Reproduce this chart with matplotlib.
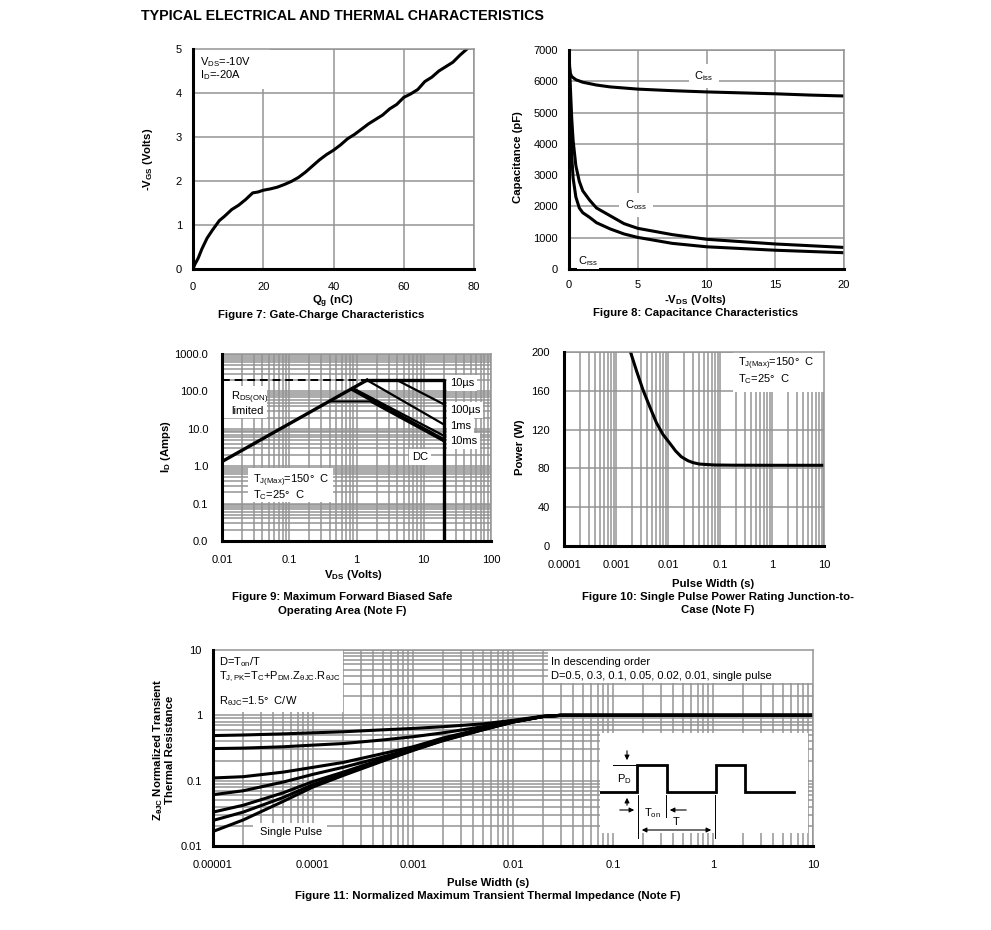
import matplotlib
matplotlib.use("Agg")
import matplotlib.pyplot as plt
from matplotlib.patches import Rectangle
from matplotlib.ticker import LogLocator, NullFormatter

plt.rcParams.update({
    "font.family": "Liberation Sans",
    "mathtext.fontset": "custom",
    "mathtext.rm": "Liberation Sans",
    "mathtext.it": "Liberation Sans:italic",
    "mathtext.bf": "Liberation Sans:bold",
    "mathtext.default": "regular",
})

# ---- Figure 7: gate charge ----
qg = [0, 0.5, 1.5, 2.5, 4, 5.5, 7.5, 9, 11, 13, 15, 17, 18.5, 20, 22, 24, 26, 28, 30,
      32, 34, 36, 38, 40, 42, 44, 46, 48, 50, 52, 54, 56, 58, 60, 62, 64, 66, 68, 70,
      72, 74, 76, 78]
vgs = [0, 0.1, 0.25, 0.45, 0.7, 0.88, 1.1, 1.2, 1.35, 1.45, 1.58, 1.73, 1.75, 1.79,
       1.82, 1.86, 1.92, 1.99, 2.08, 2.2, 2.34, 2.48, 2.6, 2.7, 2.82, 2.96, 3.06, 3.18,
       3.3, 3.4, 3.5, 3.64, 3.74, 3.9, 3.98, 4.08, 4.26, 4.36, 4.5, 4.6, 4.7, 4.86, 5.0]

# ---- Figure 8: capacitance ----
v_iss = [0, 0.05, 0.1, 0.2, 0.5, 1, 2, 3, 5, 7.5, 10, 12.5, 15, 17.5, 20]
c_iss = [7000, 6400, 6250, 6150, 6050, 5970, 5880, 5820, 5750, 5700, 5660, 5630, 5600, 5560, 5530]
v_oss = [0.05, 0.1, 0.2, 0.3, 0.5, 0.75, 1, 1.5, 2, 3, 4, 5, 7.5, 10, 15, 20]
c_oss = [6400, 5800, 4800, 4100, 3300, 2800, 2500, 2200, 1950, 1700, 1450, 1300, 1100, 950, 800, 690]
v_rss = [0.03, 0.1, 0.2, 0.3, 0.5, 0.75, 1, 1.5, 2, 3, 4, 5, 7.5, 10, 15, 20]
c_rss = [6000, 4800, 3600, 2900, 2300, 1950, 1800, 1650, 1480, 1280, 1120, 1010, 820, 710, 600, 520]

# ---- Figure 9: SOA ----
rds_v, rds_i = [0.01, 1.43], [1.33, 200]
lim_v, lim_i = [0.01, 1.43], [200, 200]
top_v, top_i = [1.43, 20, 20], [200, 200, 0.01]
us10_v, us10_i = [4, 20], [200, 45]
us100_v, us100_i = [1.43, 20], [200, 13]
ms1_v, ms1_i = [0.9, 20], [120, 6.5]
ms10_v, ms10_i = [0.86, 20], [114, 5]
dc_v, dc_i = [0.41, 1.6, 20], [54, 54, 4.6]
soa_xt = [0.01, 0.1, 1, 10, 100]
soa_xl = ["0.01", "0.1", "1", "10", "100"]
soa_yt = [0.01, 0.1, 1, 10, 100, 1000]
soa_yl = ["0.0", "0.1", "1.0", "10.0", "100.0", "1000.0"]

# ---- Figure 10: single pulse power ----
tp = [0.0019, 0.0025, 0.0033, 0.0045, 0.006, 0.008, 0.0108, 0.014, 0.018, 0.024,
      0.030, 0.04, 0.055, 0.08, 0.18, 1, 10]
pw = [200, 180, 161, 143, 127, 115, 106, 98, 92, 88, 86, 84.5, 84, 83.5, 83.3, 83.2, 83.2]
pw_xt = [0.0001, 0.001, 0.01, 0.1, 1, 10]
pw_xl = ["0.0001", "0.001", "0.01", "0.1", "1", "10"]

# ---- Figure 11: transient thermal impedance ----
tz = [1e-5, 2e-5, 5e-5, 1e-4, 2e-4, 5e-4, 1e-3, 2e-3, 5e-3, 1e-2, 2e-2, 3e-2, 0.1, 10]
z_d50 = [0.49, 0.50, 0.52, 0.54, 0.56, 0.60, 0.63, 0.67, 0.74, 0.84, 0.97, 1.0, 1.0, 1.0]
z_d30 = [0.31, 0.315, 0.33, 0.35, 0.37, 0.42, 0.47, 0.54, 0.67, 0.82, 0.96, 1.0, 1.0, 1.0]
z_d10 = [0.11, 0.115, 0.135, 0.16, 0.19, 0.26, 0.33, 0.45, 0.63, 0.80, 0.96, 1.0, 1.0, 1.0]
z_d05 = [0.061, 0.07, 0.095, 0.125, 0.16, 0.23, 0.31, 0.43, 0.62, 0.80, 0.96, 1.0, 1.0, 1.0]
z_d02 = [0.033, 0.042, 0.065, 0.097, 0.135, 0.215, 0.30, 0.42, 0.61, 0.79, 0.96, 1.0, 1.0, 1.0]
z_d01 = [0.0246, 0.033, 0.055, 0.087, 0.125, 0.205, 0.295, 0.415, 0.605, 0.79, 0.96, 1.0, 1.0, 1.0]
z_sp = [0.0167, 0.025, 0.048, 0.08, 0.12, 0.20, 0.29, 0.41, 0.60, 0.79, 0.96, 1.0, 1.0, 1.0]
z_xt = [1e-5, 1e-4, 1e-3, 1e-2, 0.1, 1, 10]
z_xl = ["0.00001", "0.0001", "0.001", "0.01", "0.1", "1", "10"]
z_yt = [0.01, 0.1, 1, 10]
z_yl = ["0.01", "0.1", "1", "10"]

# pulse sketch (inset units)
pulse_x = [600, 637, 637, 667, 667, 716, 716, 745, 745, 794]
pulse_y = [792, 792, 765, 765, 792, 792, 765, 765, 792, 792]

W, H = 991, 930
GRID = "#949494"
FS = 8
FB = 8.2

fig = plt.figure(figsize=(W / 100, H / 100), dpi=100, facecolor="white")


def rect(l, t, r, b):
    return [l / W, 1 - b / H, (r - l) / W, (b - t) / H]


def ftext(x, y, s, **kw):
    kw.setdefault("fontsize", FS)
    kw.setdefault("va", "center")
    return fig.text(x / W, 1 - y / H, s, zorder=5, **kw)


def btext(x, y, s, **kw):
    kw.setdefault("fontsize", FB)
    return ftext(x, y, s, fontweight="bold", ha="center", **kw)


def white_box(ax, l, t, r, b):
    ax.add_patch(Rectangle((l / W, 1 - b / H), (r - l) / W, (b - t) / H,
                           transform=fig.transFigure, facecolor="white",
                           edgecolor="none", zorder=1))


def style(ax, logx=False, logy=False, xpad=10, ypad=8):
    ax.set_axisbelow(True)
    if logx:
        ax.set_xscale("log")
        ax.xaxis.set_minor_locator(LogLocator(subs=range(2, 10)))
        ax.xaxis.set_minor_formatter(NullFormatter())
    if logy:
        ax.set_yscale("log")
        ax.yaxis.set_minor_locator(LogLocator(subs=range(2, 10)))
        ax.yaxis.set_minor_formatter(NullFormatter())
    ax.grid(True, which="major", color=GRID, lw=1.1)
    if logx:
        ax.grid(True, which="minor", axis="x", color=GRID, lw=1.1)
    if logy:
        ax.grid(True, which="minor", axis="y", color=GRID, lw=1.1)
    ax.tick_params(which="both", length=0, labelsize=FS)
    ax.tick_params(axis="x", pad=xpad)
    ax.tick_params(axis="y", pad=ypad)
    for s in ("left", "bottom"):
        ax.spines[s].set_color("black")
        ax.spines[s].set_linewidth(2.2)
        ax.spines[s].set_zorder(4)
    for s in ("top", "right"):
        ax.spines[s].set_color(GRID)
        ax.spines[s].set_linewidth(1.1)


ftext(141, 16, "TYPICAL ELECTRICAL AND THERMAL CHARACTERISTICS", fontsize=10.3,
      fontweight="bold")

# ---------------- Figure 7 ----------------
ax7 = fig.add_axes(rect(193, 49, 474, 269))
style(ax7, xpad=9)
ax7.plot(qg, vgs, color="black", lw=2.2, zorder=2)
ax7.set_xlim(0, 80)
ax7.set_ylim(0, 5)
ax7.set_xticks([0, 20, 40, 60, 80])
ax7.set_yticks([0, 1, 2, 3, 4, 5])
white_box(ax7, 193, 49, 270, 89)
ftext(200, 62, "V$_{DS}$=-10V")
ftext(200, 75, "I$_{D}$=-20A")
btext(148, 159, r"-V$_{\mathbf{GS}}$ (Volts)", rotation=90)
btext(333, 302, r"Q$_{\mathbf{g}}$ (nC)")
btext(321, 315, "Figure 7: Gate-Charge Characteristics")

# ---------------- Figure 8 ----------------
ax8 = fig.add_axes(rect(569, 50, 844, 269))
style(ax8, xpad=8)
ax8.plot(v_iss, c_iss, color="black", lw=2.2, zorder=2)
ax8.plot(v_oss, c_oss, color="black", lw=2.2, zorder=2)
ax8.plot(v_rss, c_rss, color="black", lw=2.2, zorder=2)
ax8.set_xlim(0, 20)
ax8.set_ylim(0, 7000)
ax8.set_xticks([0, 5, 10, 15, 20])
ax8.set_yticks(range(0, 7001, 1000))
lab = dict(facecolor="white", edgecolor="none", pad=4)
ftext(704, 76, "C$_{iss}$", ha="center", bbox=lab)
ftext(636, 205, "C$_{oss}$", ha="center", bbox=lab)
ftext(588, 261, "C$_{rss}$", ha="center", bbox=dict(facecolor="white", edgecolor="none", pad=1))
btext(518, 157, "Capacitance (pF)", rotation=90)
btext(695, 300, r"-V$_{\mathbf{DS}}$ (Volts)")
btext(696, 313, "Figure 8: Capacitance Characteristics")

# ---------------- Figure 9 ----------------
ax9 = fig.add_axes(rect(222, 354, 491, 541))
style(ax9, logx=True, logy=True, ypad=10)
ax9.plot(rds_v, rds_i, color="black", lw=2.4, zorder=2)
ax9.plot(lim_v, lim_i, color="black", lw=1.4, ls=(0, (4, 2.5)), zorder=2)
ax9.plot(top_v, top_i, color="black", lw=2.4, zorder=2)
ax9.plot(us10_v, us10_i, color="black", lw=1.6, zorder=2)
ax9.plot(us100_v, us100_i, color="black", lw=1.6, zorder=2)
ax9.plot(ms1_v, ms1_i, color="black", lw=1.6, zorder=2)
ax9.plot(ms10_v, ms10_i, color="black", lw=2.6, zorder=2)
ax9.plot(dc_v, dc_i, color="black", lw=1.5, zorder=2)
ax9.set_xlim(0.01, 100)
ax9.set_ylim(0.01, 1000)
ax9.set_xticks(soa_xt, soa_xl)
ax9.set_yticks(soa_yt, soa_yl)
white_box(ax9, 223, 386, 267, 418)
white_box(ax9, 248, 468, 333, 502)
ftext(231, 398, "R$_{DS(ON)}$")
ftext(231, 411, "limited")
ftext(253, 481, "T$_{J(Max)}$=150°  C")
ftext(253, 495, "T$_{C}$=25°  C")
lab2 = dict(facecolor="white", edgecolor="none", pad=2)
ftext(450, 383, "10µs", bbox=lab2)
ftext(450, 410, "100µs", bbox=lab2)
ftext(450, 426, "1ms", bbox=lab2)
ftext(450, 441, "10ms", bbox=lab2)
ftext(412, 457, "DC", bbox=lab2)
btext(166, 447, r"I$_{\mathbf{D}}$ (Amps)", rotation=90)
btext(353, 575, r"V$_{\mathbf{DS}}$ (Volts)")
btext(342, 597, "Figure 9: Maximum Forward Biased Safe")
btext(342, 611, "Operating Area (Note F)")

# ---------------- Figure 10 ----------------
ax10 = fig.add_axes(rect(564, 352, 824, 546))
style(ax10, logx=True, ypad=10)
ax10.plot(tp, pw, color="black", lw=2.2, zorder=2)
ax10.set_xlim(0.0001, 10)
ax10.set_ylim(0, 200)
ax10.set_xticks(pw_xt, pw_xl)
ax10.set_yticks(range(0, 201, 40))
white_box(ax10, 733, 352, 824, 392)
ftext(738, 364, "T$_{J(Max)}$=150°  C")
ftext(738, 379, "T$_{C}$=25°  C")
btext(520, 447, "Power (W)", rotation=90)
btext(713, 584, "Pulse Width (s)")
btext(718, 597, "Figure 10: Single Pulse Power Rating Junction-to-")
btext(718, 610, "Case (Note F)")

# ---------------- Figure 11 ----------------
ax11 = fig.add_axes(rect(213, 650, 813, 846))
style(ax11, logx=True, logy=True)
for z in (z_d50, z_d30, z_d10, z_d05, z_d02, z_d01, z_sp):
    ax11.plot(tz, z, color="black", lw=2.2, zorder=2)
ax11.set_xlim(1e-5, 10)
ax11.set_ylim(0.01, 10)
ax11.set_xticks(z_xt, z_xl)
ax11.set_yticks(z_yt, z_yl)
white_box(ax11, 213, 650, 343, 712)
white_box(ax11, 548, 650, 813, 683)
white_box(ax11, 253, 823, 327, 846)
ftext(219, 662, "D=T$_{on}$/T")
ftext(219, 677, "T$_{J,PK}$=T$_{C}$+P$_{DM}$.Z$_{θJC}$.R$_{θJC}$")
ftext(219, 701, "R$_{θJC}$=1.5°  C/W")
ftext(551, 662, "In descending order")
ftext(551, 676, "D=0.5, 0.3, 0.1, 0.05, 0.02, 0.01, single pulse")
ftext(260, 832, "Single Pulse")
btext(163, 750, "Z$_{\\mathbf{θJC}}$ Normalized Transient\nThermal Resistance", rotation=90,
      linespacing=0.95)
btext(488, 883, "Pulse Width (s)")
btext(488, 896, "Figure 11: Normalized Maximum Transient Thermal Impedance (Note F)")

# pulse sketch inset
axp = fig.add_axes(rect(600, 733, 808, 833), facecolor="white")
axp.set_xlim(600, 808)
axp.set_ylim(833, 733)
axp.set_xticks([])
axp.set_yticks([])
for s in axp.spines.values():
    s.set_visible(False)
axp.plot(pulse_x, pulse_y, color="black", lw=2.0, solid_joinstyle="miter")
thin = dict(color="black", lw=0.7, clip_on=False)
axp.plot([613, 637], [765, 765], **thin)
axp.plot([638, 638], [795, 838], **thin)
axp.plot([666, 666], [795, 817], **thin)
axp.plot([715, 715], [795, 838], **thin)
arr = dict(arrowstyle="-|>", color="black", lw=0.8, mutation_scale=7)
axp.annotate("", xy=(627, 763), xytext=(627, 748), arrowprops=arr, annotation_clip=False)
axp.annotate("", xy=(627, 795), xytext=(627, 808), arrowprops=arr, annotation_clip=False)
axp.annotate("", xy=(637, 810), xytext=(617, 810), arrowprops=arr, annotation_clip=False)
axp.annotate("", xy=(667, 810), xytext=(689, 810), arrowprops=arr, annotation_clip=False)
axp.annotate("", xy=(714, 830), xytext=(639, 830),
             arrowprops=dict(arrowstyle="<|-|>", color="black", lw=0.8, mutation_scale=7),
             annotation_clip=False)
axp.text(624, 779, "P$_{D}$", fontsize=FS, ha="center", va="center")
axp.text(652, 813, "T$_{on}$", fontsize=FS, ha="center", va="center")
axp.text(676, 822, "T", fontsize=FS, ha="center", va="center")

fig.savefig("out.png", dpi=100, facecolor="white")
